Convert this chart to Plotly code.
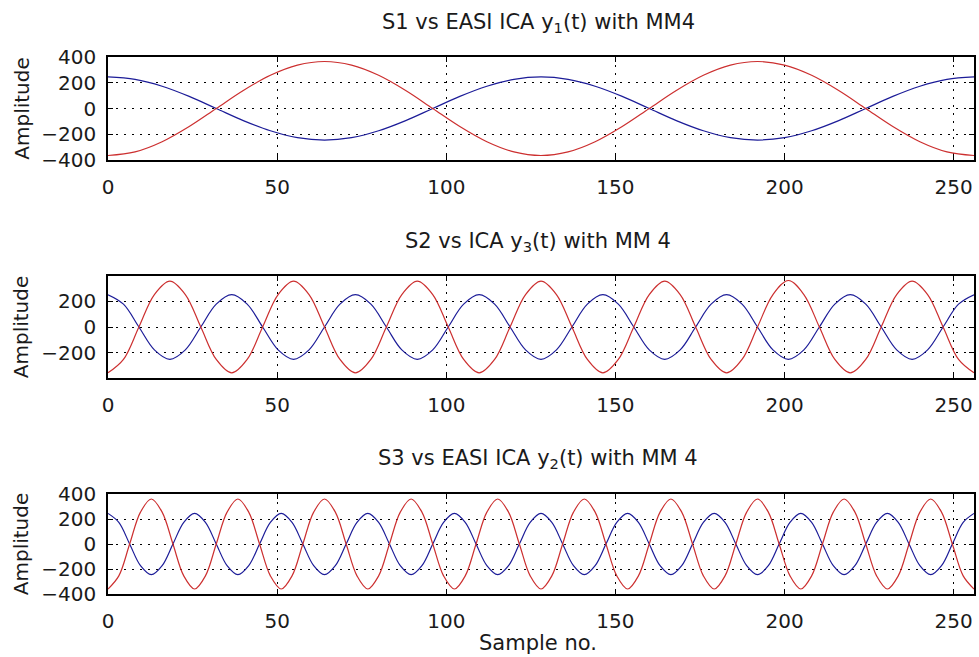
import plotly.graph_objects as go

# ---------------- data ----------------
# Subplot 1: S1 vs EASI ICA y1(t)
x1 = [0, 8, 16, 24, 32, 40, 48, 56, 64, 72, 80, 88, 96, 104, 112, 120, 128,
      136, 144, 152, 160, 168, 176, 184, 192, 200, 208, 216, 224, 232, 240, 248, 256]
s1_blue = [245, 226, 173, 94, 0, -94, -173, -226, -245, -226, -173, -94, 0, 94, 173, 226,
           245, 226, 173, 94, 0, -94, -173, -226, -245, -226, -173, -94, 0, 94, 173, 226,
           245]
s1_red = [-365, -337, -258, -140, 0, 140, 258, 337, 365, 337, 258, 140, 0, -140, -258, -337,
          -365, -337, -258, -140, 0, 140, 258, 337, 365, 337, 258, 140, 0, -140, -258, -337,
          -365]

# Subplot 2: S2 vs ICA y3(t)
x2 = [0, 4.57, 9.14, 13.71, 18.29, 22.86, 27.43, 32,
      36.57, 41.14, 45.71, 50.29, 54.86, 59.43, 64, 68.57,
      73.14, 77.71, 82.29, 86.86, 91.43, 96, 100.57, 105.14,
      109.71, 114.29, 118.86, 123.43, 128, 132.57, 137.14, 141.71,
      146.29, 150.86, 155.43, 160, 164.57, 169.14, 173.71, 178.29,
      182.86, 187.43, 192, 196.57, 201.14, 205.71, 210.29, 214.86,
      219.43, 224, 228.57, 233.14, 237.71, 242.29, 246.86, 251.43,
      256]
s2_blue = [250, 177, 0, -177, -250, -177, 0, 177,
           250, 177, 0, -177, -250, -177, 0, 177,
           250, 177, 0, -177, -250, -177, 0, 177,
           250, 177, 0, -177, -250, -177, 0, 177,
           250, 177, 0, -177, -250, -177, 0, 177,
           250, 177, 0, -177, -250, -177, 0, 177,
           250, 177, 0, -177, -250, -177, 0, 177,
           250]
s2_red = [-355, -251, 0, 251, 355, 251, 0, -251,
          -355, -251, 0, 251, 355, 251, 0, -251,
          -355, -251, 0, 251, 355, 251, 0, -251,
          -355, -251, 0, 251, 355, 251, 0, -251,
          -355, -251, 0, 251, 355, 251, 0, -251,
          -355, -251, 0, 251, 360, 251, 0, -251,
          -355, -251, 0, 251, 355, 251, 0, -251,
          -355]

# Subplot 3: S3 vs EASI ICA y2(t)
x3 = [0, 3.2, 6.4, 9.6, 12.8, 16, 19.2, 22.4,
      25.6, 28.8, 32, 35.2, 38.4, 41.6, 44.8, 48,
      51.2, 54.4, 57.6, 60.8, 64, 67.2, 70.4, 73.6,
      76.8, 80, 83.2, 86.4, 89.6, 92.8, 96, 99.2,
      102.4, 105.6, 108.8, 112, 115.2, 118.4, 121.6, 124.8,
      128, 131.2, 134.4, 137.6, 140.8, 144, 147.2, 150.4,
      153.6, 156.8, 160, 163.2, 166.4, 169.6, 172.8, 176,
      179.2, 182.4, 185.6, 188.8, 192, 195.2, 198.4, 201.6,
      204.8, 208, 211.2, 214.4, 217.6, 220.8, 224, 227.2,
      230.4, 233.6, 236.8, 240, 243.2, 246.4, 249.6, 252.8,
      256]
s3_blue = [245, 173, 0, -173, -245, -173, 0, 173,
           245, 173, 0, -173, -245, -173, 0, 173,
           245, 173, 0, -173, -245, -173, 0, 173,
           245, 173, 0, -173, -245, -173, 0, 173,
           245, 173, 0, -173, -245, -173, 0, 173,
           245, 173, 0, -173, -245, -173, 0, 173,
           245, 173, 0, -173, -245, -173, 0, 173,
           245, 173, 0, -173, -245, -173, 0, 173,
           245, 173, 0, -173, -245, -173, 0, 173,
           245, 173, 0, -173, -245, -173, 0, 173,
           245]
s3_red = [-360, -255, 0, 255, 360, 255, 0, -255,
          -360, -255, 0, 255, 360, 255, 0, -255,
          -360, -255, 0, 255, 360, 255, 0, -255,
          -360, -255, 0, 255, 360, 255, 0, -255,
          -360, -255, 0, 255, 360, 255, 0, -255,
          -360, -255, 0, 255, 360, 255, 0, -255,
          -360, -255, 0, 255, 360, 255, 0, -255,
          -360, -255, 0, 255, 360, 255, 0, -255,
          -360, -255, 0, 255, 360, 255, 0, -255,
          -360, -255, 0, 255, 360, 255, 0, -255,
          -360]

x_ticks = [0, 50, 100, 150, 200, 250]
y_ticks_13 = [-400, -200, 0, 200, 400]
y_ticks_2 = [-200, 0, 200]

titles = ["S1 vs EASI ICA y<sub>1</sub>(t) with MM4",
          "S2 vs ICA y<sub>3</sub>(t) with MM 4",
          "S3 vs EASI ICA y<sub>2</sub>(t) with MM 4"]
y_label = "Amplitude"
x_label = "Sample no."

# ---------------- styling ----------------
BLUE = "#1c1c98"
RED = "#cc2f2f"
FONT = "DejaVu Sans"
FS = 20
TXT = "#1a1a1a"

W, H = 979, 657
ML, MR, MT, MB = 108, 3, 57, 63
plot_h = H - MT - MB  # 537


def ydom(top_px, bot_px):
    return [(H - MB - bot_px) / plot_h, (H - MB - top_px) / plot_h]


fig = go.Figure()

series = [(x1, s1_blue, s1_red), (x2, s2_blue, s2_red), (x3, s3_blue, s3_red)]
for i, (xx, b, r) in enumerate(series):
    sfx = "" if i == 0 else str(i + 1)
    fig.add_trace(go.Scatter(x=xx, y=b, mode="lines", line=dict(color=BLUE, width=1.2, shape="spline"),
                             xaxis="x" + sfx, yaxis="y" + sfx, showlegend=False))
    fig.add_trace(go.Scatter(x=xx, y=r, mode="lines", line=dict(color=RED, width=1.2, shape="spline"),
                             xaxis="x" + sfx, yaxis="y" + sfx, showlegend=False))

common = dict(showline=True, linecolor="black", linewidth=1.5, mirror="ticks",
              ticks="inside", ticklen=5, tickcolor="black", tickwidth=1,
              showgrid=True, gridcolor="black", griddash="2px,6px", gridwidth=1,
              zeroline=False, tickfont=dict(family=FONT, size=FS, color=TXT))

domains = [ydom(57, 160), ydom(276, 378), ydom(494, 594)]
yranges = [[-400, 400], [-395, 395], [-400, 400]]
yticks = [y_ticks_13, y_ticks_2, y_ticks_13]

layout = dict(width=W, height=H, margin=dict(l=ML, r=MR, t=MT, b=MB),
              paper_bgcolor="white", plot_bgcolor="white", showlegend=False)
for i in range(3):
    sfx = "" if i == 0 else str(i + 1)
    layout["xaxis" + sfx] = dict(common, domain=[0, 1], range=[0, 256], tickvals=x_ticks,
                                 anchor="y" + sfx, ticklabelstandoff=8)
    layout["yaxis" + sfx] = dict(common, domain=domains[i], range=yranges[i], tickvals=yticks[i],
                                 anchor="x" + sfx, ticklabelstandoff=6)
fig.update_layout(**layout)

# titles and axis labels
title_y_px = [22.5, 241.5, 458.5]
ann = []
for i in range(3):
    ann.append(dict(text=titles[i], xref="paper", yref="paper",
                    x=(539 - ML) / (W - ML - MR), y=(H - MB - title_y_px[i]) / plot_h,
                    xanchor="center", yanchor="middle", showarrow=False,
                    font=dict(family=FONT, size=21, color=TXT)))
    sfx = "" if i == 0 else str(i + 1)
    ann.append(dict(text=y_label, xref="x" + sfx + " domain", yref="y" + sfx + " domain",
                    x=(21 - ML) / (W - ML - MR), y=0.5, textangle=-90,
                    xanchor="center", yanchor="middle", showarrow=False,
                    font=dict(family=FONT, size=FS, color=TXT)))
ann.append(dict(text=x_label, xref="paper", yref="paper",
                x=(539 - ML) / (W - ML - MR), y=(H - MB - 643) / plot_h,
                xanchor="center", yanchor="middle", showarrow=False,
                font=dict(family=FONT, size=21, color=TXT)))
fig.update_layout(annotations=ann)

fig.write_html("out.html", config={"displayModeBar": False},
               post_script="document.body.style.margin='0';document.body.style.padding='0';"
                           "document.body.style.overflow='hidden';")
